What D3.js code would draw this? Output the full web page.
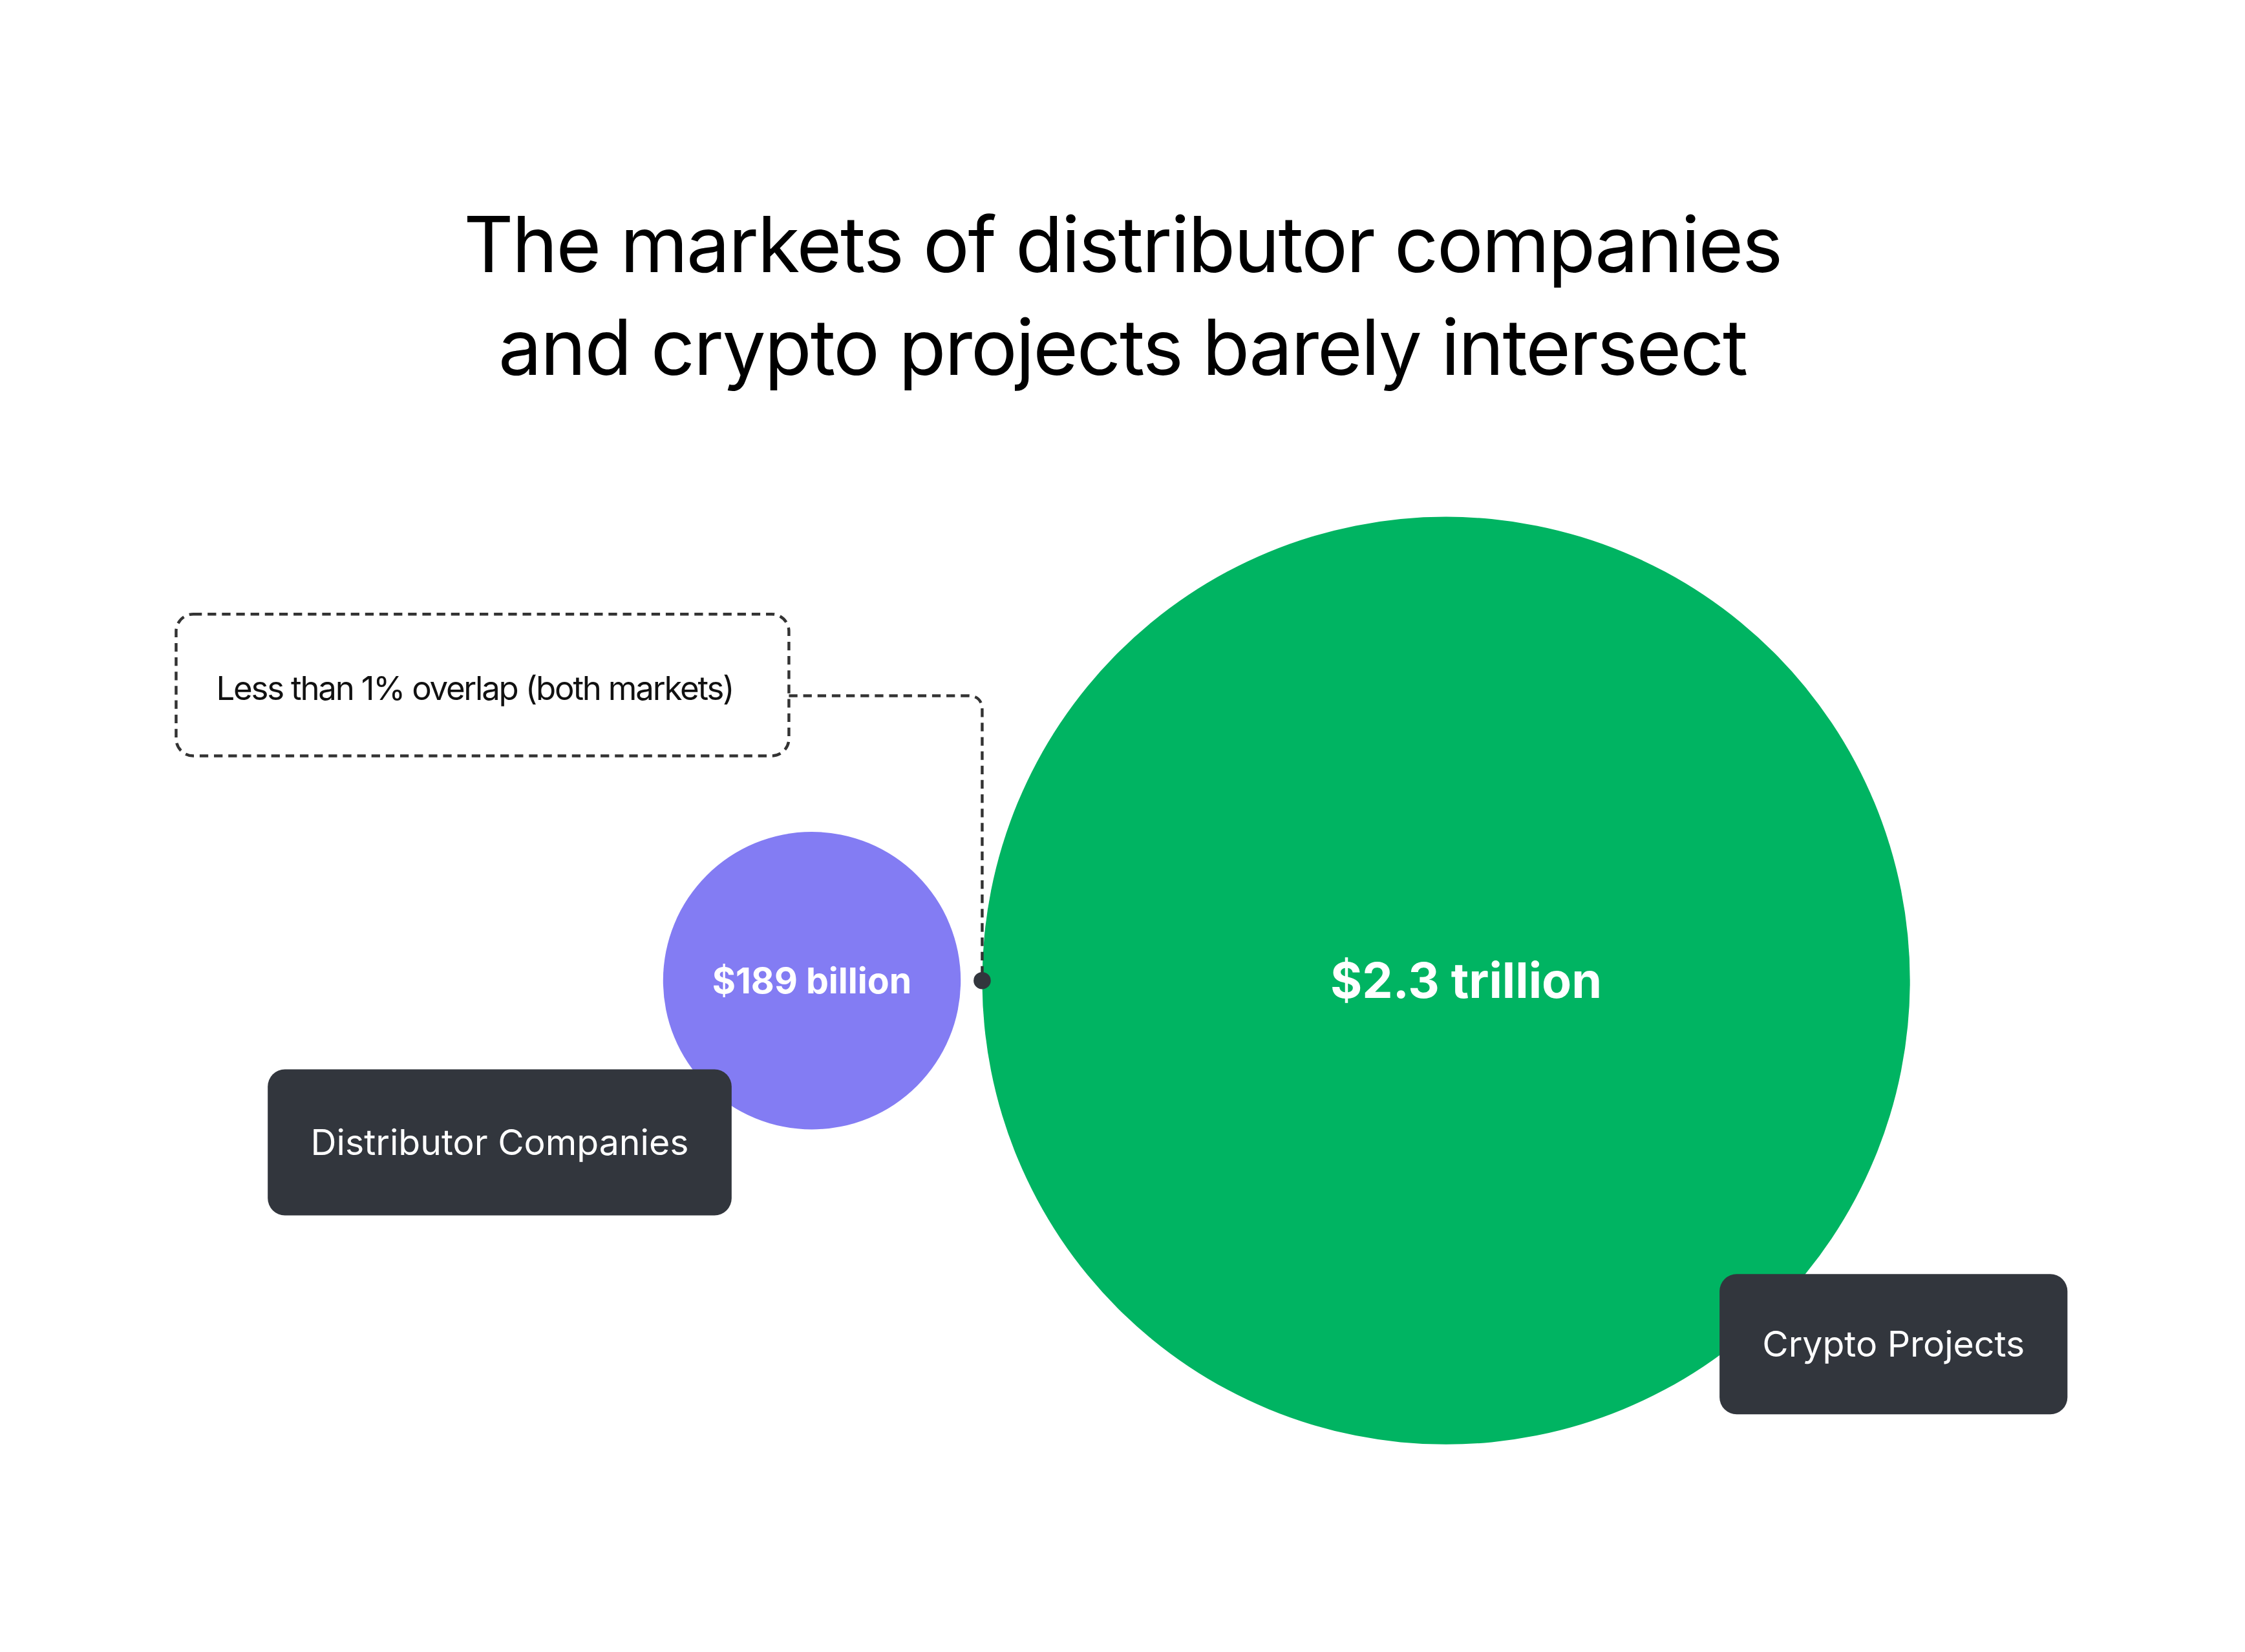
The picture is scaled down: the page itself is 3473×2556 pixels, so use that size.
<!DOCTYPE html>
<html><head><meta charset="utf-8">
<script src="https://cdn.jsdelivr.net/npm/d3@7"></script>
<style>html,body{margin:0;padding:0;background:#fff}svg{display:block}</style>
</head><body>
<script>
const titleLines = ["The markets of distributor companies", "and crypto projects barely intersect"];
const categories = ["Distributor Companies", "Crypto Projects"];
const values = [189, 2300];
const valueLabels = ["$189 billion", "$2.3 trillion"];
const annotation = "Less than 1% overlap (both markets)";

const W = 3473, H = 2556, k = W / 1568;
const svg = d3.select("body").append("svg").attr("width", W).attr("height", H)
  .attr("viewBox", `0 0 1568 ${H / k}`);
const font = "Inter, 'Noto Sans', sans-serif";

svg.append("g").selectAll("text").data(titleLines).join("text")
  .attr("x", 784).attr("y", (d, i) => 190 + i * 72).attr("text-anchor", "middle")
  .attr("font-family", font).attr("font-size", 54).attr("letter-spacing", -1).attr("fill", "#000").text(d => d);

const r = d3.scalePow().exponent(0.455).domain([0, 2300]).range([0, 324]);
const cy = 685;
const gap = 0; // circles touch at the dot
const rs = values.map(r);
const cx2 = 1010, cx1 = cx2 - rs[1] - gap - 15 - rs[0];
const cxs = [cx1, cx2];
const colors = ["#837cf3", "#00b462"];

svg.append("g").selectAll("circle").data(values).join("circle")
  .attr("cx", (d, i) => cxs[i]).attr("cy", cy).attr("r", d => r(d)).attr("fill", (d, i) => colors[i]);

svg.append("g").selectAll("text").data(valueLabels).join("text")
  .attr("x", (d, i) => cxs[i] + (i ? 14 : 0)).attr("y", cy).attr("dy", "0.35em").attr("text-anchor", "middle")
  .attr("font-family", font).attr("font-weight", 700).attr("fill", "#fff")
  .attr("font-size", (d, i) => i ? 34 : 25).text(d => d);

// annotation
const dotX = cx2 - rs[1];
svg.append("rect").attr("x", 123).attr("y", 429).attr("width", 428).attr("height", 99).attr("rx", 12)
  .attr("fill", "none").attr("stroke", "#333").attr("stroke-width", 2).attr("stroke-dasharray", "6,4");
svg.append("text").attr("x", 151).attr("y", 481).attr("dy", "0.35em").attr("font-family", font)
  .attr("font-size", 23).attr("letter-spacing", -1).attr("fill", "#111").text(annotation);
svg.append("path").attr("d", `M551,486 H${dotX - 10} Q${dotX},486 ${dotX},496 V${cy}`)
  .attr("fill", "none").attr("stroke", "#333").attr("stroke-width", 2).attr("stroke-dasharray", "6,4");
svg.append("circle").attr("cx", dotX).attr("cy", cy).attr("r", 6).attr("fill", "#32363d");

// category labels
const boxes = [{x: 187, y: 747, w: 324, h: 102}, {x: 1201, y: 890, w: 243, h: 98}];
const lg = svg.append("g").selectAll("g").data(categories).join("g");
lg.append("rect").attr("x", (d, i) => boxes[i].x).attr("y", (d, i) => boxes[i].y)
  .attr("width", (d, i) => boxes[i].w).attr("height", (d, i) => boxes[i].h).attr("rx", 12).attr("fill", "#32363d");
lg.append("text").attr("x", (d, i) => boxes[i].x + boxes[i].w / 2).attr("y", (d, i) => boxes[i].y + boxes[i].h / 2)
  .attr("dy", "0.35em").attr("text-anchor", "middle").attr("font-family", font).attr("font-size", 25)
  .attr("fill", "#fff").text(d => d);
</script>
</body></html>
